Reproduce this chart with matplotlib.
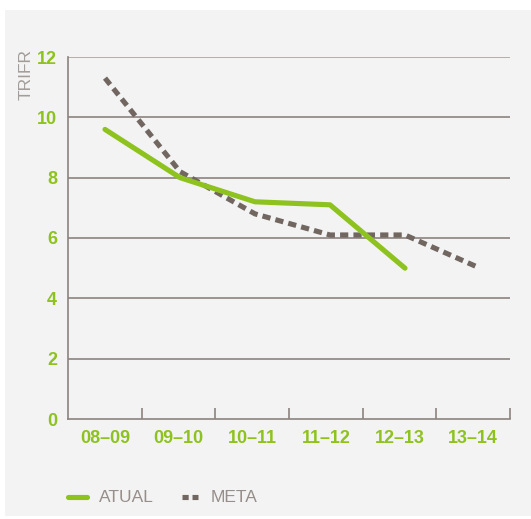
import matplotlib.pyplot as plt
from matplotlib.patches import Rectangle
from matplotlib.lines import Line2D

plt.rcParams["font.family"] = ["Liberation Sans", "DejaVu Sans"]

periods = ["08–09", "09–10", "10–11", "11–12", "12–13", "13–14"]
atual = [9.6, 8.0, 7.2, 7.1, 5.0]
meta = [11.3, 8.2, 6.8, 6.1, 6.1, 5.0]

green = "#8dc21f"
dash_gray = "#716660"
axis_gray = "#8c837e"
text_gray = "#958e8a"

W, H = 531, 519
fig = plt.figure(figsize=(W / 100, H / 100), dpi=100)
fig.patch.set_facecolor("white")
# light panel behind everything
fig.patches.append(Rectangle((5 / W, 1 - 516 / H), 526 / W, 506 / H,
                             transform=fig.transFigure, facecolor="#f3f3f3",
                             edgecolor="none", zorder=-5))

rect = [68 / W, 1 - 419 / H, 442 / W, 362 / H]
ax = fig.add_axes(rect)
ax.set_facecolor("none")
ax.set_zorder(2)

# lines sit on their own overlay, points are spaced a touch wider than the columns
lx = fig.add_axes(rect, sharey=ax)
lx.set_zorder(3)
lx.set_facecolor("none")
lx.axis("off")
lx.set_xlim(-0.4933, 5.400)

x_atual = list(range(len(atual)))
x_meta = list(range(len(meta)))
lx.plot(x_meta, meta, color=dash_gray, lw=3.7, dashes=(1.6, 1.0), zorder=3)
lx.plot(x_atual, atual, color=green, lw=3.7, solid_capstyle="round", zorder=4)

ax.set_xlim(-0.5, 5.5)
ax.set_ylim(0, 12)
ax.set_yticks(range(0, 13, 2))
for y in range(2, 13, 2):
    ax.axhline(y, color="#aaa39f" if y == 12 else axis_gray, lw=1.2, zorder=1)

ax.set_xticks(range(len(periods)))
ax.set_xticklabels(periods)
ax.set_xticks([i + 0.5 for i in range(6)], minor=True)
ax.tick_params(axis="x", which="major", length=0, pad=8)
ax.tick_params(axis="x", which="minor", direction="in", length=8,
               color=axis_gray, width=1.2)
ax.tick_params(axis="y", length=0, pad=8)
for lab in ax.get_xticklabels() + ax.get_yticklabels():
    lab.set_color(green)
    lab.set_fontweight("bold")
    lab.set_fontsize(13)

for s in ["top", "right"]:
    ax.spines[s].set_visible(False)
for s in ["left", "bottom"]:
    ax.spines[s].set_color(axis_gray)
    ax.spines[s].set_linewidth(1.2)

fig.text(26 / W, 1 - 74 / H, "TRIFR", rotation=90, color="#a39d99",
         fontsize=12.5, ha="center", va="center")

# legend drawn by hand: the two keys have different lengths
ly = 1 - 497 / H
fig.add_artist(Line2D([68 / W, 87 / W], [ly, ly], color=green, lw=3.7,
                      solid_capstyle="round"))
fig.text(99 / W, ly, "ATUAL", color=text_gray, fontsize=12.5, va="center")
fig.add_artist(Line2D([182 / W, 198 / W], [ly, ly], color=dash_gray, lw=3.7,
                      dashes=(1.2, 0.75)))
fig.text(211 / W, ly, "META", color=text_gray, fontsize=12.5, va="center")

fig.savefig("out.png", dpi=100)
